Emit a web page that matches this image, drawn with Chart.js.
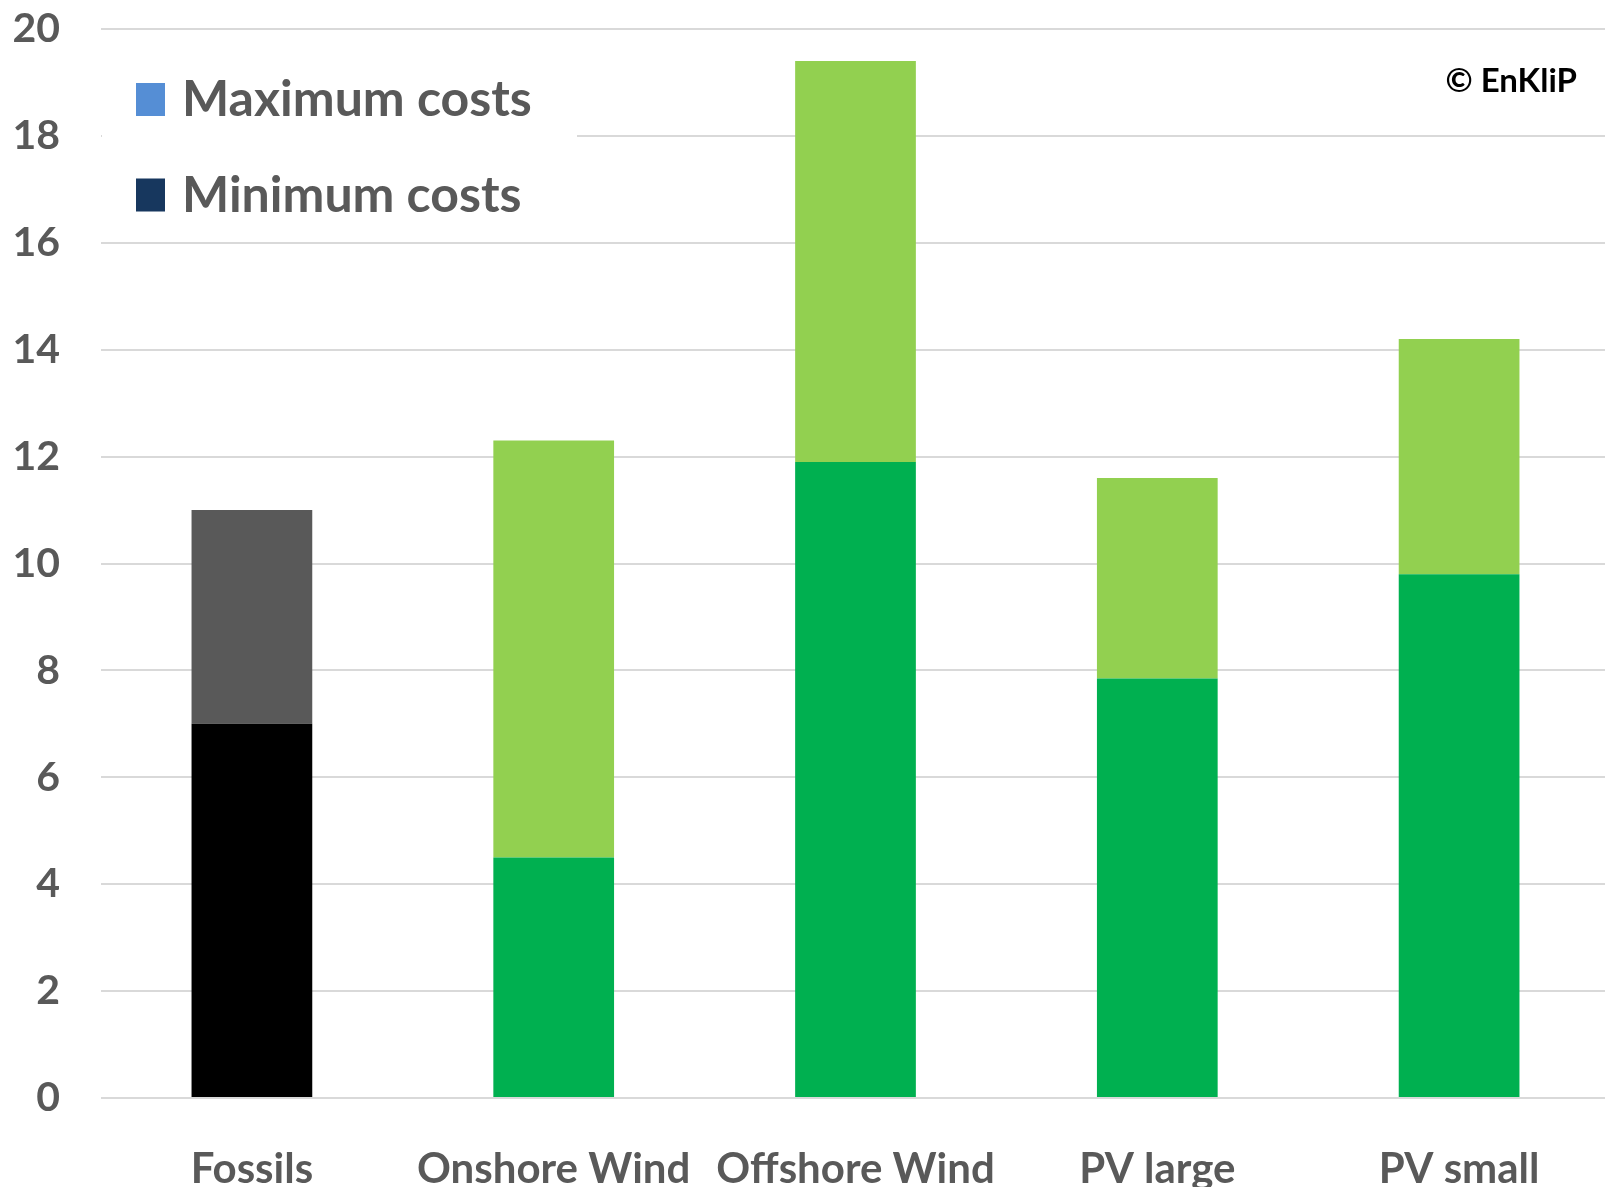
<!DOCTYPE html>
<html>
<head>
  <meta charset="UTF-8">
  <title>Cost comparison – EnKliP</title>
  <script src="https://cdn.jsdelivr.net/npm/chart.js"></script>
  <style>
    html, body { margin: 0; padding: 0; background: #fff; overflow: hidden; }
    #wrap { width: 1611px; height: 1187px; }
  </style>
</head>
<body>
  <div id="wrap"><canvas id="costChart" width="1611" height="1187"></canvas></div>

  <script>
    const categories = ['Fossils', 'Onshore Wind', 'Offshore Wind', 'PV large', 'PV small'];
    const minCosts = [7, 4.5, 11.9, 7.85, 9.8];
    const maxCosts = [11, 12.3, 19.4, 11.6, 14.2];
    const yTicks = [0, 2, 4, 6, 8, 10, 12, 14, 16, 18, 20];

    const minColors = ['#000000', '#00B050', '#00B050', '#00B050', '#00B050'];
    const maxColors = ['#595959', '#92D050', '#92D050', '#92D050', '#92D050'];

    // legend shows its own swatch colours, not the bar colours
    const legendLabels = ['Maximum costs', 'Minimum costs'];
    const legendColors = ['#558ED5', '#17375E'];
    const copyright = '© EnKliP';

    const FONT = 'Lato, "Open Sans", sans-serif';
    const GREY = '#595959';

    const overlay = {
      id: 'overlay',
      afterDraw(chart) {
        const ctx = chart.ctx;
        ctx.save();
        // legend box background hides the gridline behind it
        ctx.fillStyle = '#fff';
        ctx.fillRect(102, 50, 475, 178);
        ctx.font = 'bold 50px ' + FONT;
        ctx.textBaseline = 'alphabetic';
        ctx.textAlign = 'left';
        legendLabels.forEach((label, i) => {
          const base = 116 + i * 95.5;
          ctx.fillStyle = legendColors[i];
          ctx.fillRect(136, base - 33, 29, 33);
          ctx.fillStyle = GREY;
          ctx.fillText(label, 182, base);
        });
        ctx.font = 'bold 33px ' + FONT;
        ctx.fillStyle = '#000';
        ctx.textAlign = 'right';
        ctx.fillText(copyright, 1577, 92);
        ctx.restore();
      }
    };

    function render() {
      const ctx = document.getElementById('costChart').getContext('2d');
      new Chart(ctx, {
        type: 'bar',
        data: {
          labels: categories,
          datasets: [
            {
              label: legendLabels[1],
              data: minCosts,
              backgroundColor: minColors
            },
            {
              label: legendLabels[0],
              data: minCosts.map((v, i) => [v, maxCosts[i]]),
              backgroundColor: maxColors
            }
          ]
        },
        options: {
          responsive: false,
          devicePixelRatio: 1,
          animation: false,
          layout: { padding: { top: 29, right: 1, left: 0, bottom: 0 } },
          datasets: { bar: { barPercentage: 0.4, categoryPercentage: 1, borderWidth: 0 } },
          plugins: { legend: { display: false }, tooltip: { enabled: false } },
          scales: {
            x: {
              stacked: true,
              grid: { display: false },
              border: { display: false },
              ticks: {
                color: GREY,
                font: { family: FONT, weight: 'bold', size: 42 },
                padding: 38,
                maxRotation: 0,
                autoSkip: false
              },
              afterFit: s => { s.height = 89; s.paddingLeft = 0; s.paddingRight = 0; }
            },
            y: {
              stacked: false,
              min: 0,
              max: 20,
              afterBuildTicks: s => { s.ticks = yTicks.map(v => ({ value: v })); },
              grid: { color: '#D9D9D9', lineWidth: 2, drawTicks: false },
              border: { display: false },
              ticks: {
                color: GREY,
                font: { family: FONT, weight: 'bold', size: 41 },
                padding: 41
              },
              afterFit: s => { s.width = 101; s.paddingTop = 0; s.paddingBottom = 0; }
            }
          }
        },
        plugins: [overlay]
      });
    }

    window.onload = render;
  </script>
</body>
</html>
